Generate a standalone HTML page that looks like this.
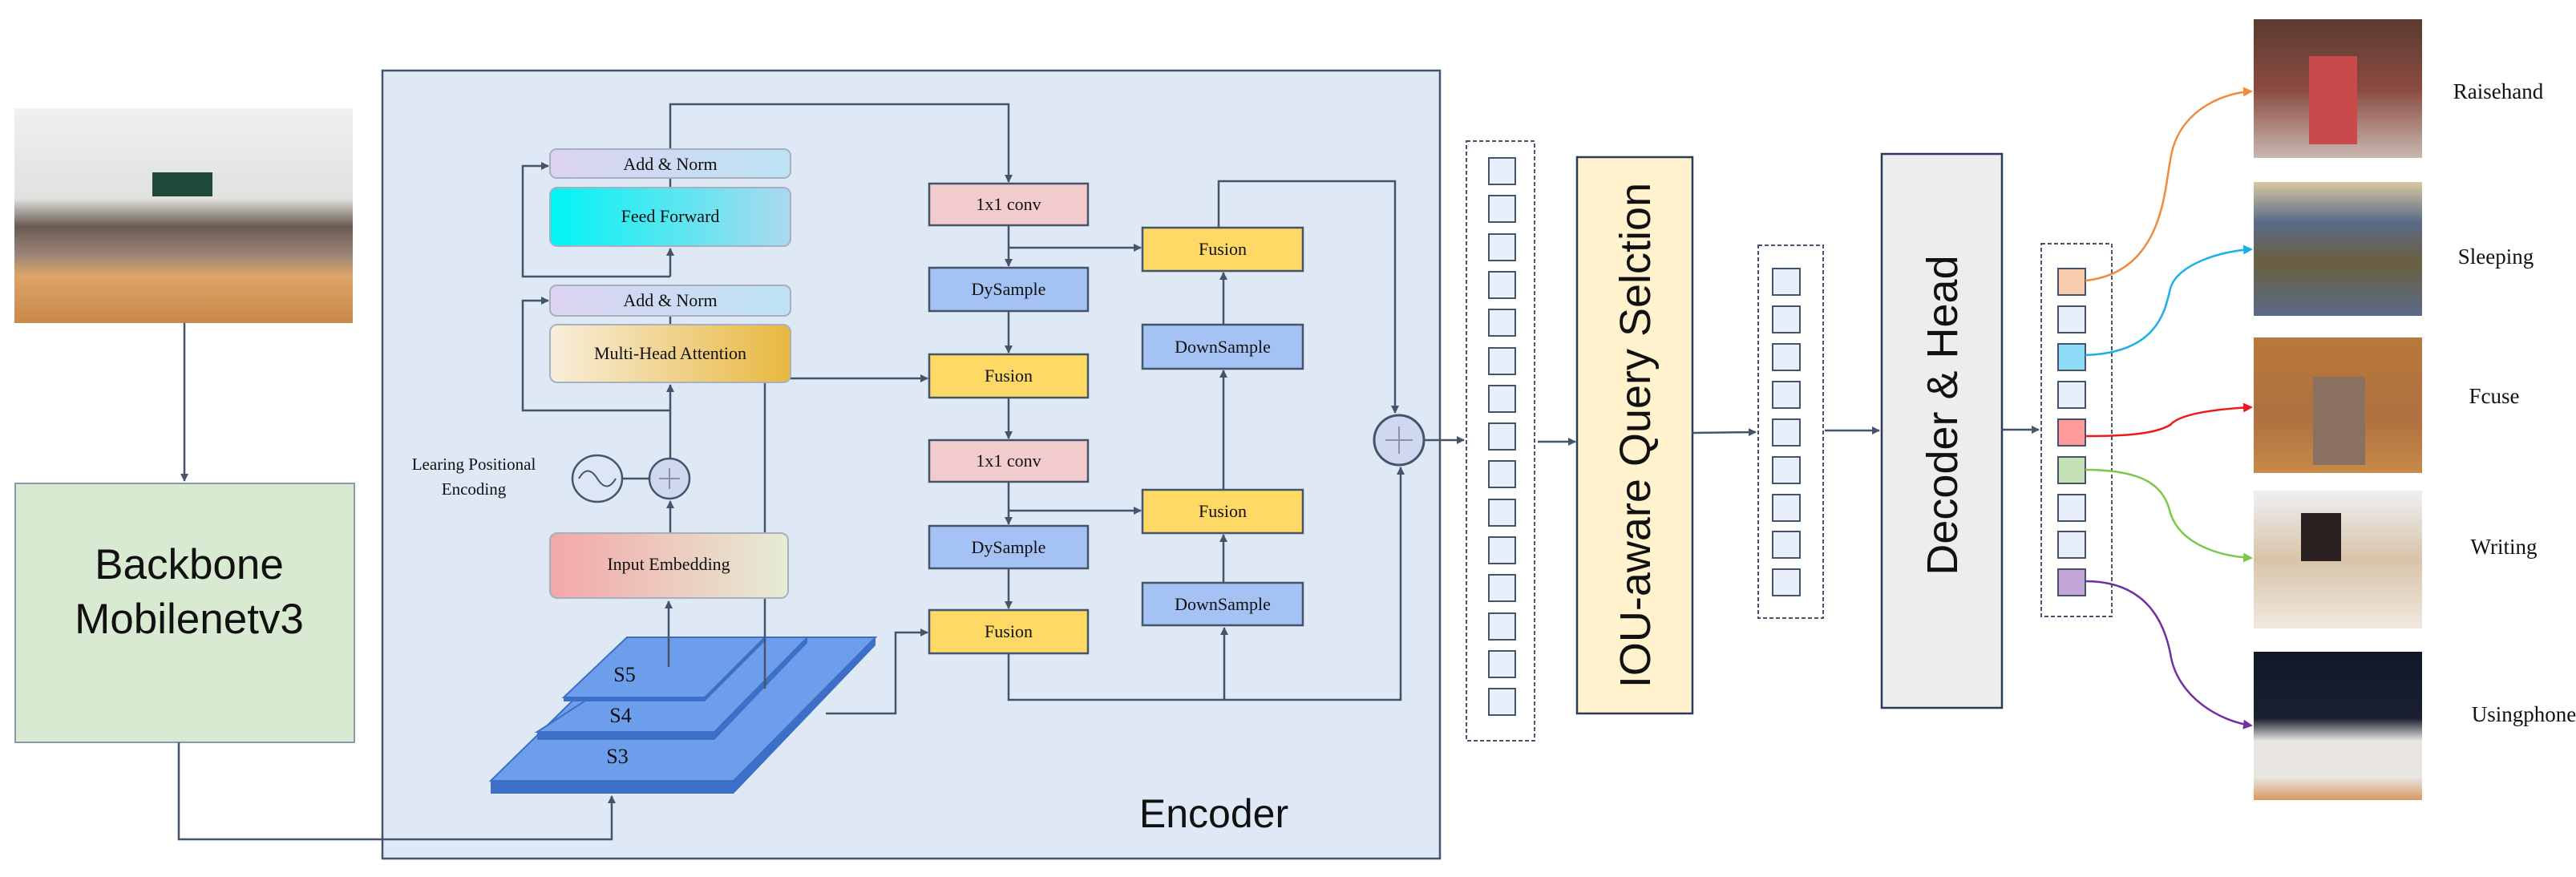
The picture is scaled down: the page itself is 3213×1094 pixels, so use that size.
<!DOCTYPE html>
<html><head><meta charset="utf-8"><style>html,body{margin:0;padding:0;background:#fff}svg{display:block}.s{font-family:"Liberation Serif",serif}.a{font-family:"Liberation Sans",sans-serif}</style></head>
<body>
<svg width="3213" height="1094" viewBox="0 0 3213 1094" xmlns="http://www.w3.org/2000/svg" class="s">
<defs>
<marker id="a" markerWidth="10" markerHeight="10" refX="9" refY="5" orient="auto" markerUnits="userSpaceOnUse" viewBox="0 0 10 10"><path d="M0,0 L10,5 L0,10 z" fill="#44546a"/></marker>
<marker id="ao" markerWidth="12" markerHeight="12" refX="10" refY="6" orient="auto" markerUnits="userSpaceOnUse"><path d="M0,0 L12,6 L0,12 z" fill="#f08a3c"/></marker>
<marker id="ac" markerWidth="12" markerHeight="12" refX="10" refY="6" orient="auto" markerUnits="userSpaceOnUse"><path d="M0,0 L12,6 L0,12 z" fill="#1ab0ea"/></marker>
<marker id="ar" markerWidth="12" markerHeight="12" refX="10" refY="6" orient="auto" markerUnits="userSpaceOnUse"><path d="M0,0 L12,6 L0,12 z" fill="#f01818"/></marker>
<marker id="ag" markerWidth="12" markerHeight="12" refX="10" refY="6" orient="auto" markerUnits="userSpaceOnUse"><path d="M0,0 L12,6 L0,12 z" fill="#7cc84a"/></marker>
<marker id="ap" markerWidth="12" markerHeight="12" refX="10" refY="6" orient="auto" markerUnits="userSpaceOnUse"><path d="M0,0 L12,6 L0,12 z" fill="#7030a0"/></marker>
<linearGradient id="gan" x1="0" x2="1"><stop offset="0" stop-color="#dcd3f0"/><stop offset="1" stop-color="#bde3f4"/></linearGradient>
<linearGradient id="gff" x1="0" x2="1"><stop offset="0" stop-color="#00f4f4"/><stop offset="1" stop-color="#abd9ee"/></linearGradient>
<linearGradient id="gmh" x1="0" x2="1"><stop offset="0" stop-color="#f8eedc"/><stop offset="1" stop-color="#e8b840"/></linearGradient>
<linearGradient id="gie" x1="0" x2="1"><stop offset="0" stop-color="#f2a8a8"/><stop offset="1" stop-color="#e6ecd4"/></linearGradient>
<linearGradient id="gcl" x1="0" x2="0" y1="0" y2="1"><stop offset="0" stop-color="#f0f0ee"/><stop offset="0.42" stop-color="#e0e2e0"/><stop offset="0.55" stop-color="#6a5a52"/><stop offset="0.68" stop-color="#9a8478"/><stop offset="0.78" stop-color="#dca468"/><stop offset="1" stop-color="#c88848"/></linearGradient>
<linearGradient id="g1" x1="0" x2="0" y1="0" y2="1"><stop offset="0" stop-color="#5a3a30"/><stop offset="0.5" stop-color="#8a4a40"/><stop offset="1" stop-color="#c8b8b0"/></linearGradient>
<linearGradient id="g2" x1="0" x2="0" y1="0" y2="1"><stop offset="0" stop-color="#d8c8a0"/><stop offset="0.3" stop-color="#5a6a88"/><stop offset="0.6" stop-color="#6a6040"/><stop offset="1" stop-color="#5a6a88"/></linearGradient>
<linearGradient id="g3" x1="0" x2="0" y1="0" y2="1"><stop offset="0" stop-color="#b8783a"/><stop offset="0.6" stop-color="#b07040"/><stop offset="1" stop-color="#c88a48"/></linearGradient>
<linearGradient id="g4" x1="0" x2="0" y1="0" y2="1"><stop offset="0" stop-color="#eef0f4"/><stop offset="0.5" stop-color="#d8c4a8"/><stop offset="1" stop-color="#f0e8e0"/></linearGradient>
<linearGradient id="g5" x1="0" x2="0" y1="0" y2="1"><stop offset="0" stop-color="#101828"/><stop offset="0.45" stop-color="#1a2030"/><stop offset="0.6" stop-color="#e8e4e0"/><stop offset="0.85" stop-color="#e8e4e0"/><stop offset="1" stop-color="#d89860"/></linearGradient>
</defs>

<!-- classroom photo -->
<rect x="18" y="135" width="422" height="268" fill="url(#gcl)"/>
<rect x="190" y="215" width="75" height="30" fill="#1f4a3a"/>
<line x1="230" y1="403" x2="230" y2="600" stroke="#44546a" stroke-width="2.5" marker-end="url(#a)"/>

<!-- backbone -->
<rect x="19" y="603" width="423" height="323" fill="#d9ead3" stroke="#8a98a8" stroke-width="2"/>
<text x="236" y="722" class="a" font-size="53" text-anchor="middle" fill="#111">Backbone</text>
<text x="236" y="790" class="a" font-size="53" text-anchor="middle" fill="#111">Mobilenetv3</text>

<!-- encoder -->
<rect x="477" y="88" width="1319" height="983" fill="#dee9f5" stroke="#44546a" stroke-width="2.5"/>
<text x="1514" y="1032" class="a" font-size="50" text-anchor="middle" fill="#111">Encoder</text>

<polyline points="223,926 223,1047 763,1047 763,993" fill="none" stroke="#44546a" stroke-width="2.5" marker-end="url(#a)"/>

<!-- layers -->
<polygon points="795,795 1092,795 1092,805 915,990 612,990 612,974" fill="#3e6fc6"/>
<polygon points="795,795 1092,795 915,974 612,974" fill="#6d9eeb" stroke="#3e6fc6" stroke-width="2"/>
<polygon points="852,795 1007,795 1007,802 891,923 670,923 670,913" fill="#3e6fc6"/>
<polygon points="852,795 1007,795 891,913 670,913" fill="#6d9eeb" stroke="#3e6fc6" stroke-width="2"/>
<polygon points="782,795 954,795 954,800 879,875 703,875 703,870" fill="#3e6fc6"/>
<polygon points="782,795 954,795 879,870 703,870" fill="#6d9eeb" stroke="#3e6fc6" stroke-width="2"/>
<text x="779" y="850" font-size="26" text-anchor="middle" fill="#111">S5</text>
<text x="774" y="901" font-size="26" text-anchor="middle" fill="#111">S4</text>
<text x="770" y="952" font-size="26" text-anchor="middle" fill="#111">S3</text>

<g stroke="#44546a" stroke-width="2.5" fill="none">
<line x1="834" y1="832" x2="834" y2="750" marker-end="url(#a)"/>
<line x1="836" y1="665" x2="836" y2="625" marker-end="url(#a)"/>
<line x1="836" y1="572" x2="836" y2="480" marker-end="url(#a)"/>
<line x1="836" y1="345" x2="836" y2="310" marker-end="url(#a)"/>
<line x1="836" y1="394" x2="836" y2="405"/>
<line x1="836" y1="222" x2="836" y2="234"/>
<polyline points="836,512 652,512 652,375 684,375" marker-end="url(#a)"/>
<polyline points="836,345 652,345 652,207 684,207" marker-end="url(#a)"/>
<polyline points="836,186 836,130 1258,130 1258,227" marker-end="url(#a)"/>
<line x1="776" y1="597" x2="810" y2="597"/>
<polyline points="954,859 954,472 1157,472" marker-end="url(#a)"/>
<polyline points="1030,890 1117,890 1117,789 1157,789" marker-end="url(#a)"/>
</g>
<rect x="686" y="186" width="300" height="36" rx="8" fill="url(#gan)" stroke="#a8b0c0" stroke-width="2"/>
<text x="836" y="212" font-size="22" text-anchor="middle" fill="#111">Add &amp; Norm</text>
<rect x="686" y="234" width="300" height="73" rx="9" fill="url(#gff)" stroke="#a8b0c0" stroke-width="2"/>
<text x="836" y="277" font-size="22" text-anchor="middle" fill="#111">Feed Forward</text>
<rect x="686" y="356" width="300" height="38" rx="8" fill="url(#gan)" stroke="#a8b0c0" stroke-width="2"/>
<text x="836" y="382" font-size="22" text-anchor="middle" fill="#111">Add &amp; Norm</text>
<rect x="686" y="405" width="300" height="72" rx="9" fill="url(#gmh)" stroke="#a8b0c0" stroke-width="2"/>
<text x="836" y="448" font-size="22" text-anchor="middle" fill="#111">Multi-Head Attention</text>
<rect x="686" y="665" width="297" height="81" rx="9" fill="url(#gie)" stroke="#a8b0c0" stroke-width="2"/>
<text x="834" y="711" font-size="22" text-anchor="middle" fill="#111">Input Embedding</text>
<ellipse cx="745" cy="597" rx="31" ry="29" fill="#dce6f6" stroke="#44546a" stroke-width="2.5"/>
<path d="M722,597 Q733,578 745,597 T768,597" fill="none" stroke="#44546a" stroke-width="2"/>
<circle cx="835" cy="597" r="25" fill="#d0d8f0" stroke="#44546a" stroke-width="2.5"/>
<path d="M822,597 H848 M835,584 V610" stroke="#8a94a8" stroke-width="2"/>
<text x="591" y="586" font-size="21" text-anchor="middle" fill="#111">Learing Positional</text>
<text x="591" y="617" font-size="21" text-anchor="middle" fill="#111">Encoding</text>

<g stroke="#44546a" stroke-width="2.5" fill="none">
<line x1="1258" y1="281" x2="1258" y2="332" marker-end="url(#a)"/>
<line x1="1258" y1="388" x2="1258" y2="440" marker-end="url(#a)"/>
<line x1="1258" y1="496" x2="1258" y2="547" marker-end="url(#a)"/>
<line x1="1258" y1="601" x2="1258" y2="654" marker-end="url(#a)"/>
<line x1="1258" y1="709" x2="1258" y2="759" marker-end="url(#a)"/>
<polyline points="1258,309 1423,309" marker-end="url(#a)"/>
<polyline points="1258,637 1423,637" marker-end="url(#a)"/>
<line x1="1526" y1="405" x2="1526" y2="340" marker-end="url(#a)"/>
<line x1="1526" y1="611" x2="1526" y2="462" marker-end="url(#a)"/>
<line x1="1526" y1="727" x2="1526" y2="667" marker-end="url(#a)"/>
<polyline points="1520,284 1520,226 1740,226 1740,515" marker-end="url(#a)"/>
<polyline points="1258,815 1258,873 1747,873 1747,583" marker-end="url(#a)"/>
<line x1="1527" y1="873" x2="1527" y2="783" marker-end="url(#a)"/>
<line x1="1777" y1="549" x2="1826" y2="549" marker-end="url(#a)"/>
</g>
<g stroke="#44546a" stroke-width="2.5">
<rect x="1159" y="229" width="198" height="52" fill="#f2cccc"/>
<rect x="1159" y="334" width="198" height="54" fill="#a4c2f4"/>
<rect x="1159" y="442" width="198" height="54" fill="#ffd966"/>
<rect x="1159" y="549" width="198" height="52" fill="#f2cccc"/>
<rect x="1159" y="656" width="198" height="53" fill="#a4c2f4"/>
<rect x="1159" y="761" width="198" height="54" fill="#ffd966"/>
<rect x="1425" y="284" width="200" height="54" fill="#ffd966"/>
<rect x="1425" y="405" width="200" height="55" fill="#a4c2f4"/>
<rect x="1425" y="611" width="200" height="54" fill="#ffd966"/>
<rect x="1425" y="727" width="200" height="53" fill="#a4c2f4"/>
</g>
<g font-size="22" text-anchor="middle" fill="#111">
<text x="1258" y="262">1x1 conv</text>
<text x="1258" y="368">DySample</text>
<text x="1258" y="476">Fusion</text>
<text x="1258" y="582">1x1 conv</text>
<text x="1258" y="690">DySample</text>
<text x="1258" y="795">Fusion</text>
<text x="1525" y="318">Fusion</text>
<text x="1525" y="440">DownSample</text>
<text x="1525" y="645">Fusion</text>
<text x="1525" y="761">DownSample</text>
</g>
<circle cx="1745" cy="549" r="31" fill="#d0d8f0" stroke="#44546a" stroke-width="3"/>
<path d="M1728,549 H1762 M1745,532 V566" stroke="#8a94a8" stroke-width="2"/>

<rect x="1829" y="176" width="85" height="748" fill="#fff" stroke="#44546a" stroke-width="2" stroke-dasharray="5,3"/>
<g fill="#e8eefa" stroke="#44546a" stroke-width="2">
<rect x="1857" y="197" width="33" height="33"/><rect x="1857" y="244" width="33" height="33"/><rect x="1857" y="292" width="33" height="33"/><rect x="1857" y="339" width="33" height="33"/><rect x="1857" y="386" width="33" height="33"/><rect x="1857" y="434" width="33" height="33"/><rect x="1857" y="481" width="33" height="33"/><rect x="1857" y="528" width="33" height="33"/><rect x="1857" y="575" width="33" height="33"/><rect x="1857" y="623" width="33" height="33"/><rect x="1857" y="670" width="33" height="33"/><rect x="1857" y="717" width="33" height="33"/><rect x="1857" y="765" width="33" height="33"/><rect x="1857" y="812" width="33" height="33"/><rect x="1857" y="859" width="33" height="33"/>
</g>
<line x1="1918" y1="551" x2="1965" y2="551" stroke="#44546a" stroke-width="2.5" marker-end="url(#a)"/>
<rect x="1967" y="196" width="144" height="694" fill="#fff2cc" stroke="#2a3a5a" stroke-width="2.5"/>
<text transform="translate(2058,543) rotate(-90)" class="a" font-size="54" text-anchor="middle" fill="#111">IOU-aware Query Selction</text>
<line x1="2111" y1="540" x2="2190" y2="539" stroke="#44546a" stroke-width="2.5" marker-end="url(#a)"/>

<rect x="2193" y="306" width="81" height="465" fill="#fff" stroke="#44546a" stroke-width="2" stroke-dasharray="5,3"/>
<g fill="#e8eefa" stroke="#44546a" stroke-width="2">
<rect x="2211" y="335" width="34" height="33"/><rect x="2211" y="382" width="34" height="33"/><rect x="2211" y="429" width="34" height="33"/><rect x="2211" y="476" width="34" height="33"/><rect x="2211" y="523" width="34" height="33"/><rect x="2211" y="570" width="34" height="33"/><rect x="2211" y="617" width="34" height="33"/><rect x="2211" y="663" width="34" height="33"/><rect x="2211" y="710" width="34" height="33"/>
</g>
<line x1="2276" y1="537" x2="2344" y2="537" stroke="#44546a" stroke-width="2.5" marker-end="url(#a)"/>
<rect x="2347" y="192" width="150" height="691" fill="#ededed" stroke="#2a3a5a" stroke-width="2.5"/>
<text transform="translate(2441,518) rotate(-90)" class="a" font-size="54" text-anchor="middle" fill="#111">Decoder &amp; Head</text>
<line x1="2497" y1="536" x2="2543" y2="536" stroke="#44546a" stroke-width="2.5" marker-end="url(#a)"/>

<rect x="2546" y="304" width="88" height="465" fill="#fff" stroke="#44546a" stroke-width="2" stroke-dasharray="5,3"/>
<g stroke="#44546a" stroke-width="2">
<rect x="2567" y="335" width="34" height="33" fill="#f8cbad"/><rect x="2567" y="382" width="34" height="33" fill="#e8eefa"/><rect x="2567" y="429" width="34" height="33" fill="#8fdcf8"/><rect x="2567" y="476" width="34" height="33" fill="#e8eefa"/><rect x="2567" y="523" width="34" height="33" fill="#ff9a9a"/><rect x="2567" y="570" width="34" height="33" fill="#c5e0b4"/><rect x="2567" y="617" width="34" height="33" fill="#e8eefa"/><rect x="2567" y="663" width="34" height="33" fill="#e8eefa"/><rect x="2567" y="710" width="34" height="33" fill="#c3a6d8"/>
</g>

<g fill="none" stroke-width="2.5">
<path d="M2601,350 C2700,340 2700,230 2707,200 C2715,140 2770,116 2808,114" stroke="#f08a3c" marker-end="url(#ao)"/>
<path d="M2601,443 C2690,440 2700,390 2707,360 C2715,330 2770,313 2808,311" stroke="#1ab0ea" marker-end="url(#ac)"/>
<path d="M2601,544 C2660,544 2690,540 2707,530 C2720,515 2770,510 2808,508" stroke="#f01818" marker-end="url(#ar)"/>
<path d="M2601,586 C2680,586 2700,610 2707,640 C2720,680 2770,694 2808,696" stroke="#7cc84a" marker-end="url(#ag)"/>
<path d="M2601,725 C2680,725 2700,780 2707,815 C2715,870 2770,900 2808,905" stroke="#7030a0" marker-end="url(#ap)"/>
</g>

<rect x="2811" y="24" width="210" height="173" fill="url(#g1)"/>
<rect x="2880" y="70" width="60" height="110" fill="#c84a4a"/>
<rect x="2811" y="227" width="210" height="167" fill="url(#g2)"/>
<rect x="2811" y="421" width="210" height="169" fill="url(#g3)"/>
<rect x="2885" y="470" width="65" height="110" fill="#8a7060"/>
<rect x="2811" y="612" width="210" height="172" fill="url(#g4)"/>
<rect x="2870" y="640" width="50" height="60" fill="#2a2020"/>
<rect x="2811" y="813" width="210" height="185" fill="url(#g5)"/>
<g font-size="27" text-anchor="middle" fill="#111">
<text x="3116" y="123">Raisehand</text>
<text x="3113" y="329">Sleeping</text>
<text x="3111" y="503">Fcuse</text>
<text x="3123" y="691">Writing</text>
<text x="3148" y="900">Usingphone</text>
</g>
</svg>
</body></html>
